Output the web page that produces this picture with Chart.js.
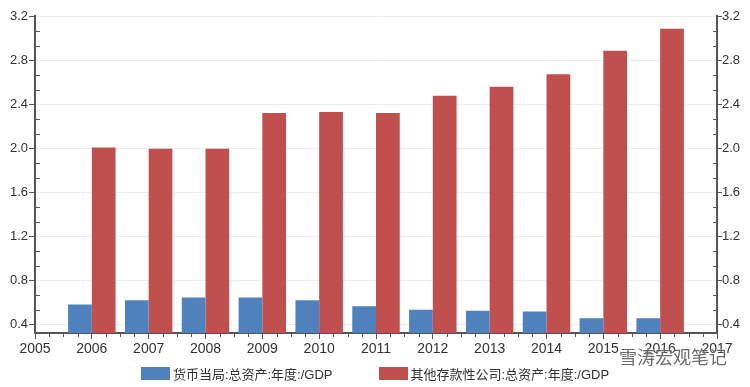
<!DOCTYPE html>
<html>
<head>
<meta charset="utf-8">
<script src="https://cdn.jsdelivr.net/npm/chart.js@4.4.0/dist/chart.umd.min.js"></script>
<style>
html, body { margin: 0; padding: 0; background: #fff; }
#caja { position: relative; width: 750px; height: 387px; }
#leyenda {
  position: absolute; left: 0; top: 366px; width: 750px;
  display: flex; justify-content: center; gap: 46px;
  font: 13px "Liberation Sans", "Noto Sans CJK SC", sans-serif; color: #333;
}
#leyenda .item { display: flex; align-items: center; height: 14px; }
#leyenda .cuadro { width: 29px; height: 13px; margin-right: 3px; }
#marca {
  position: absolute; left: 619px; top: 345px;
  font: 18px "Noto Sans CJK SC", sans-serif; line-height: 22px;
  color: rgba(70, 70, 70, 0.8); text-shadow: 0 0 2px #fff;
}
</style>
</head>
<body>
<div id="caja">
  <canvas id="grafico" width="750" height="387"></canvas>
  <div id="leyenda"></div>
  <div id="marca">雪涛宏观笔记</div>
</div>
<script>
const anios = ['2005', '2006', '2007', '2008', '2009', '2010', '2011', '2012', '2013', '2014', '2015', '2016', '2017']
const bancoCentral = [null, 0.585, 0.622, 0.647, 0.647, 0.622, 0.567, 0.537, 0.528, 0.521, 0.458, 0.458, null]
const otrosBancos = [null, 2.01, 2.0, 2.0, 2.324, 2.333, 2.324, 2.48, 2.563, 2.676, 2.89, 3.09, null]
const marcasY = [0.4, 0.8, 1.2, 1.6, 2.0, 2.4, 2.8, 3.2]
const nombres = ['货币当局:总资产:年度:/GDP', '其他存款性公司:总资产:年度:/GDP']
const colores = ['#4F81BD', '#C0504D']

const gris = '#555'
const fuente = "'Liberation Sans', Arial, sans-serif"

// marcas pequeñas de los ejes (no tienen etiqueta)
const marcasMenores = {
  id: 'marcasMenores',
  afterDraw(chart) {
    const { ctx, chartArea, scales } = chart
    const y = scales.y
    const x = scales.x
    ctx.save()
    ctx.strokeStyle = gris
    ctx.lineWidth = 1
    ctx.beginPath()
    for (let i = 0; i < marcasY.length - 1; i++) {
      for (let k = 1; k < 3; k++) {
        const v = marcasY[i] + k * (marcasY[i + 1] - marcasY[i]) / 3
        const py = Math.round(y.getPixelForValue(v)) + 0.5
        ctx.moveTo(chartArea.left, py)
        ctx.lineTo(chartArea.left + 5, py)
        ctx.moveTo(chartArea.right, py)
        ctx.lineTo(chartArea.right - 4, py)
      }
    }
    for (let i = 0; i < anios.length - 1; i++) {
      for (let k = 1; k < 4; k++) {
        const px = Math.round(x.getPixelForValue(i + k / 4)) + 0.5
        ctx.moveTo(px, chartArea.bottom)
        ctx.lineTo(px, chartArea.bottom + 4)
      }
    }
    ctx.stroke()
    ctx.restore()
  }
}

const ejeY = (lado) => ({
  type: 'linear',
  position: lado,
  min: 0.325,
  max: 3.205,
  afterBuildTicks: (s) => { s.ticks = marcasY.map((v) => ({ value: v })) },
  afterFit: (s) => { s.width = lado === 'left' ? 35 : 33 },
  ticks: {
    callback: (v) => v.toFixed(1),
    font: { family: fuente, size: 13 },
    color: '#333',
    padding: lado === 'left' ? 1 : 0
  },
  grid: {
    drawOnChartArea: lado === 'left',
    color: '#ebebeb',
    tickColor: gris,
    tickLength: lado === 'left' ? 6 : 5
  },
  border: { color: gris, width: 2 }
})

const datasets = [
  { label: nombres[0], data: bancoCentral, backgroundColor: colores[0], yAxisID: 'y' },
  { label: nombres[1], data: otrosBancos, backgroundColor: colores[1], yAxisID: 'y' }
]

const config = {
  type: 'bar',
  data: { labels: anios, datasets },
  options: {
    responsive: false,
    animation: false,
    devicePixelRatio: 1,
    datasets: { bar: { categoryPercentage: 0.835, barPercentage: 1 } },
    layout: { padding: { top: 16, bottom: 34, left: 0, right: 0 } },
    plugins: { legend: { display: false }, tooltip: { enabled: false } },
    scales: {
      x: {
        type: 'category',
        offset: false,
        afterFit: (s) => { s.height = 20 },
        ticks: {
          font: { family: fuente, size: 14 },
          color: '#333',
          padding: 2,
          maxRotation: 0,
          autoSkip: false
        },
        grid: { offset: false, drawOnChartArea: false, tickColor: gris, tickLength: 6 },
        border: { color: gris, width: 2 }
      },
      y: ejeY('left'),
      y2: ejeY('right')
    }
  },
  plugins: [marcasMenores]
}

const grafico = new Chart(document.getElementById('grafico'), config)

const leyenda = document.getElementById('leyenda')
grafico.data.datasets.forEach((d) => {
  const item = document.createElement('div')
  item.className = 'item'
  const cuadro = document.createElement('span')
  cuadro.className = 'cuadro'
  cuadro.style.backgroundColor = d.backgroundColor
  const texto = document.createElement('span')
  texto.textContent = d.label
  item.appendChild(cuadro)
  item.appendChild(texto)
  leyenda.appendChild(item)
})
</script>
</body>
</html>
